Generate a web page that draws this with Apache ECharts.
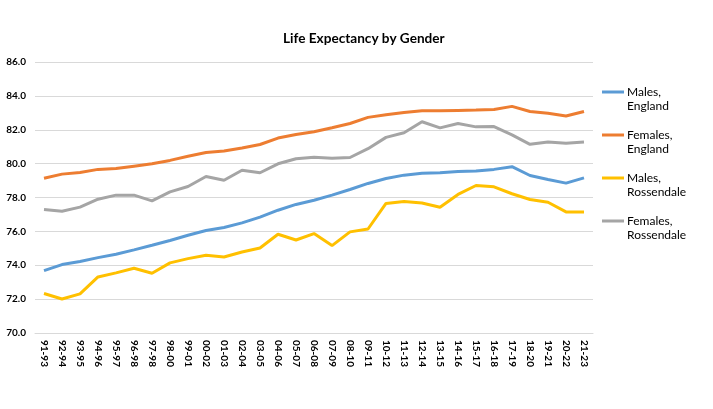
<!DOCTYPE html>
<html>
<head>
<meta charset="utf-8">
<script src="https://cdn.jsdelivr.net/npm/echarts@6/dist/echarts.min.js"></script>
<style>
  html, body { margin: 0; padding: 0; background: #fff; }
  #chart { width: 713px; height: 409px; }
</style>
</head>
<body>
<div id="chart"></div>
<script>
// periods (three-year averages)
var periods = ['91-93', '92-94', '93-95', '94-96', '95-97', '96-98', '97-98', '98-00', '99-01', '00-02',
  '01-03', '02-04', '03-05', '04-06', '05-07', '06-08', '07-09', '08-10', '09-11', '10-12',
  '11-13', '12-14', '13-15', '14-16', '15-17', '16-18', '17-19', '18-20', '19-21', '20-22', '21-23'];

var malesEngland = [73.68, 74.04, 74.22, 74.45, 74.65, 74.91, 75.18, 75.46, 75.77, 76.05,
  76.23, 76.5, 76.84, 77.25, 77.59, 77.84, 78.14, 78.47, 78.83, 79.12,
  79.32, 79.43, 79.46, 79.54, 79.56, 79.66, 79.82, 79.3, 79.06, 78.85, 79.16];

var femalesEngland = [79.14, 79.38, 79.48, 79.66, 79.71, 79.85, 79.99, 80.19, 80.44, 80.66,
  80.74, 80.92, 81.13, 81.51, 81.72, 81.88, 82.12, 82.37, 82.73, 82.89,
  83.02, 83.12, 83.12, 83.14, 83.16, 83.2, 83.38, 83.08, 82.97, 82.81, 83.08];

var malesRossendale = [72.33, 72.01, 72.31, 73.31, 73.55, 73.82, 73.53, 74.14, 74.39, 74.59,
  74.49, 74.78, 75.02, 75.83, 75.49, 75.87, 75.16, 75.97, 76.14, 77.65,
  77.76, 77.68, 77.42, 78.18, 78.71, 78.63, 78.22, 77.88, 77.72, 77.15, 77.15];

var femalesRossendale = [77.29, 77.19, 77.43, 77.9, 78.14, 78.14, 77.8, 78.33, 78.65, 79.24,
  79.02, 79.61, 79.46, 79.99, 80.29, 80.38, 80.32, 80.36, 80.88, 81.55,
  81.82, 82.47, 82.11, 82.37, 82.17, 82.19, 81.7, 81.14, 81.28, 81.2, 81.28];

var seriesNames = ['Males, England', 'Females, England', 'Males, Rossendale', 'Females, Rossendale'];
var seriesColors = ['#5B9BD5', '#ED7D31', '#FFC000', '#A5A5A5'];
var seriesData = [malesEngland, femalesEngland, malesRossendale, femalesRossendale];

var font = 'Lato, "Liberation Sans", sans-serif';

// legend: swatch drawn as a rich-text token so it sits on the first text line
var legendRich = {
  t: { fontFamily: font, fontSize: 12, color: '#000', lineHeight: 14, padding: [0, 0, 0, 3] },
  s: { width: 22, height: 14 }
};
seriesColors.forEach(function (c, i) {
  legendRich['l' + i] = { width: 22, height: 3, backgroundColor: c, verticalAlign: 'middle' };
});

var chart = echarts.init(document.getElementById('chart'));
chart.setOption({
  animation: false,
  title: {
    text: 'Life Expectancy by Gender',
    left: 278,
    top: 27,
    textStyle: { fontFamily: font, fontSize: 13.6, fontWeight: 'bold', color: '#000' }
  },
  legend: {
    orient: 'vertical',
    left: 596,
    top: 86,
    padding: 0,
    itemWidth: 0,
    itemHeight: 0,
    itemGap: 17,
    itemStyle: { opacity: 0 },
    lineStyle: { opacity: 0 },
    data: seriesNames,
    formatter: function (name) {
      var i = seriesNames.indexOf(name);
      var parts = name.split(' ');
      return '{l' + i + '|}{t|' + parts[0] + '}\n{s|}{t|' + parts[1] + '}';
    },
    textStyle: { rich: legendRich }
  },
  grid: { left: 35, right: 120, top: 62, bottom: 76 },
  xAxis: {
    type: 'category',
    data: periods,
    boundaryGap: true,
    axisLine: { lineStyle: { color: '#D9D9D9' } },
    axisTick: { show: false },
    axisLabel: {
      interval: 0,
      rotate: -90,
      margin: 7,
      fontFamily: font,
      fontSize: 10,
      fontWeight: 'bold',
      color: '#000'
    }
  },
  yAxis: {
    type: 'value',
    min: 70,
    max: 86,
    interval: 2,
    axisLine: { show: false },
    axisTick: { show: false },
    splitLine: { lineStyle: { color: '#D9D9D9' } },
    axisLabel: {
      margin: 9,
      fontFamily: font,
      fontSize: 10,
      fontWeight: 'bold',
      color: '#000',
      formatter: function (v) { return v.toFixed(1); }
    }
  },
  series: seriesNames.map(function (name, i) {
    return {
      name: name,
      type: 'line',
      data: seriesData[i],
      symbol: 'none',
      color: seriesColors[i],
      lineStyle: { width: 3, color: seriesColors[i] }
    };
  })
});
</script>
</body>
</html>
